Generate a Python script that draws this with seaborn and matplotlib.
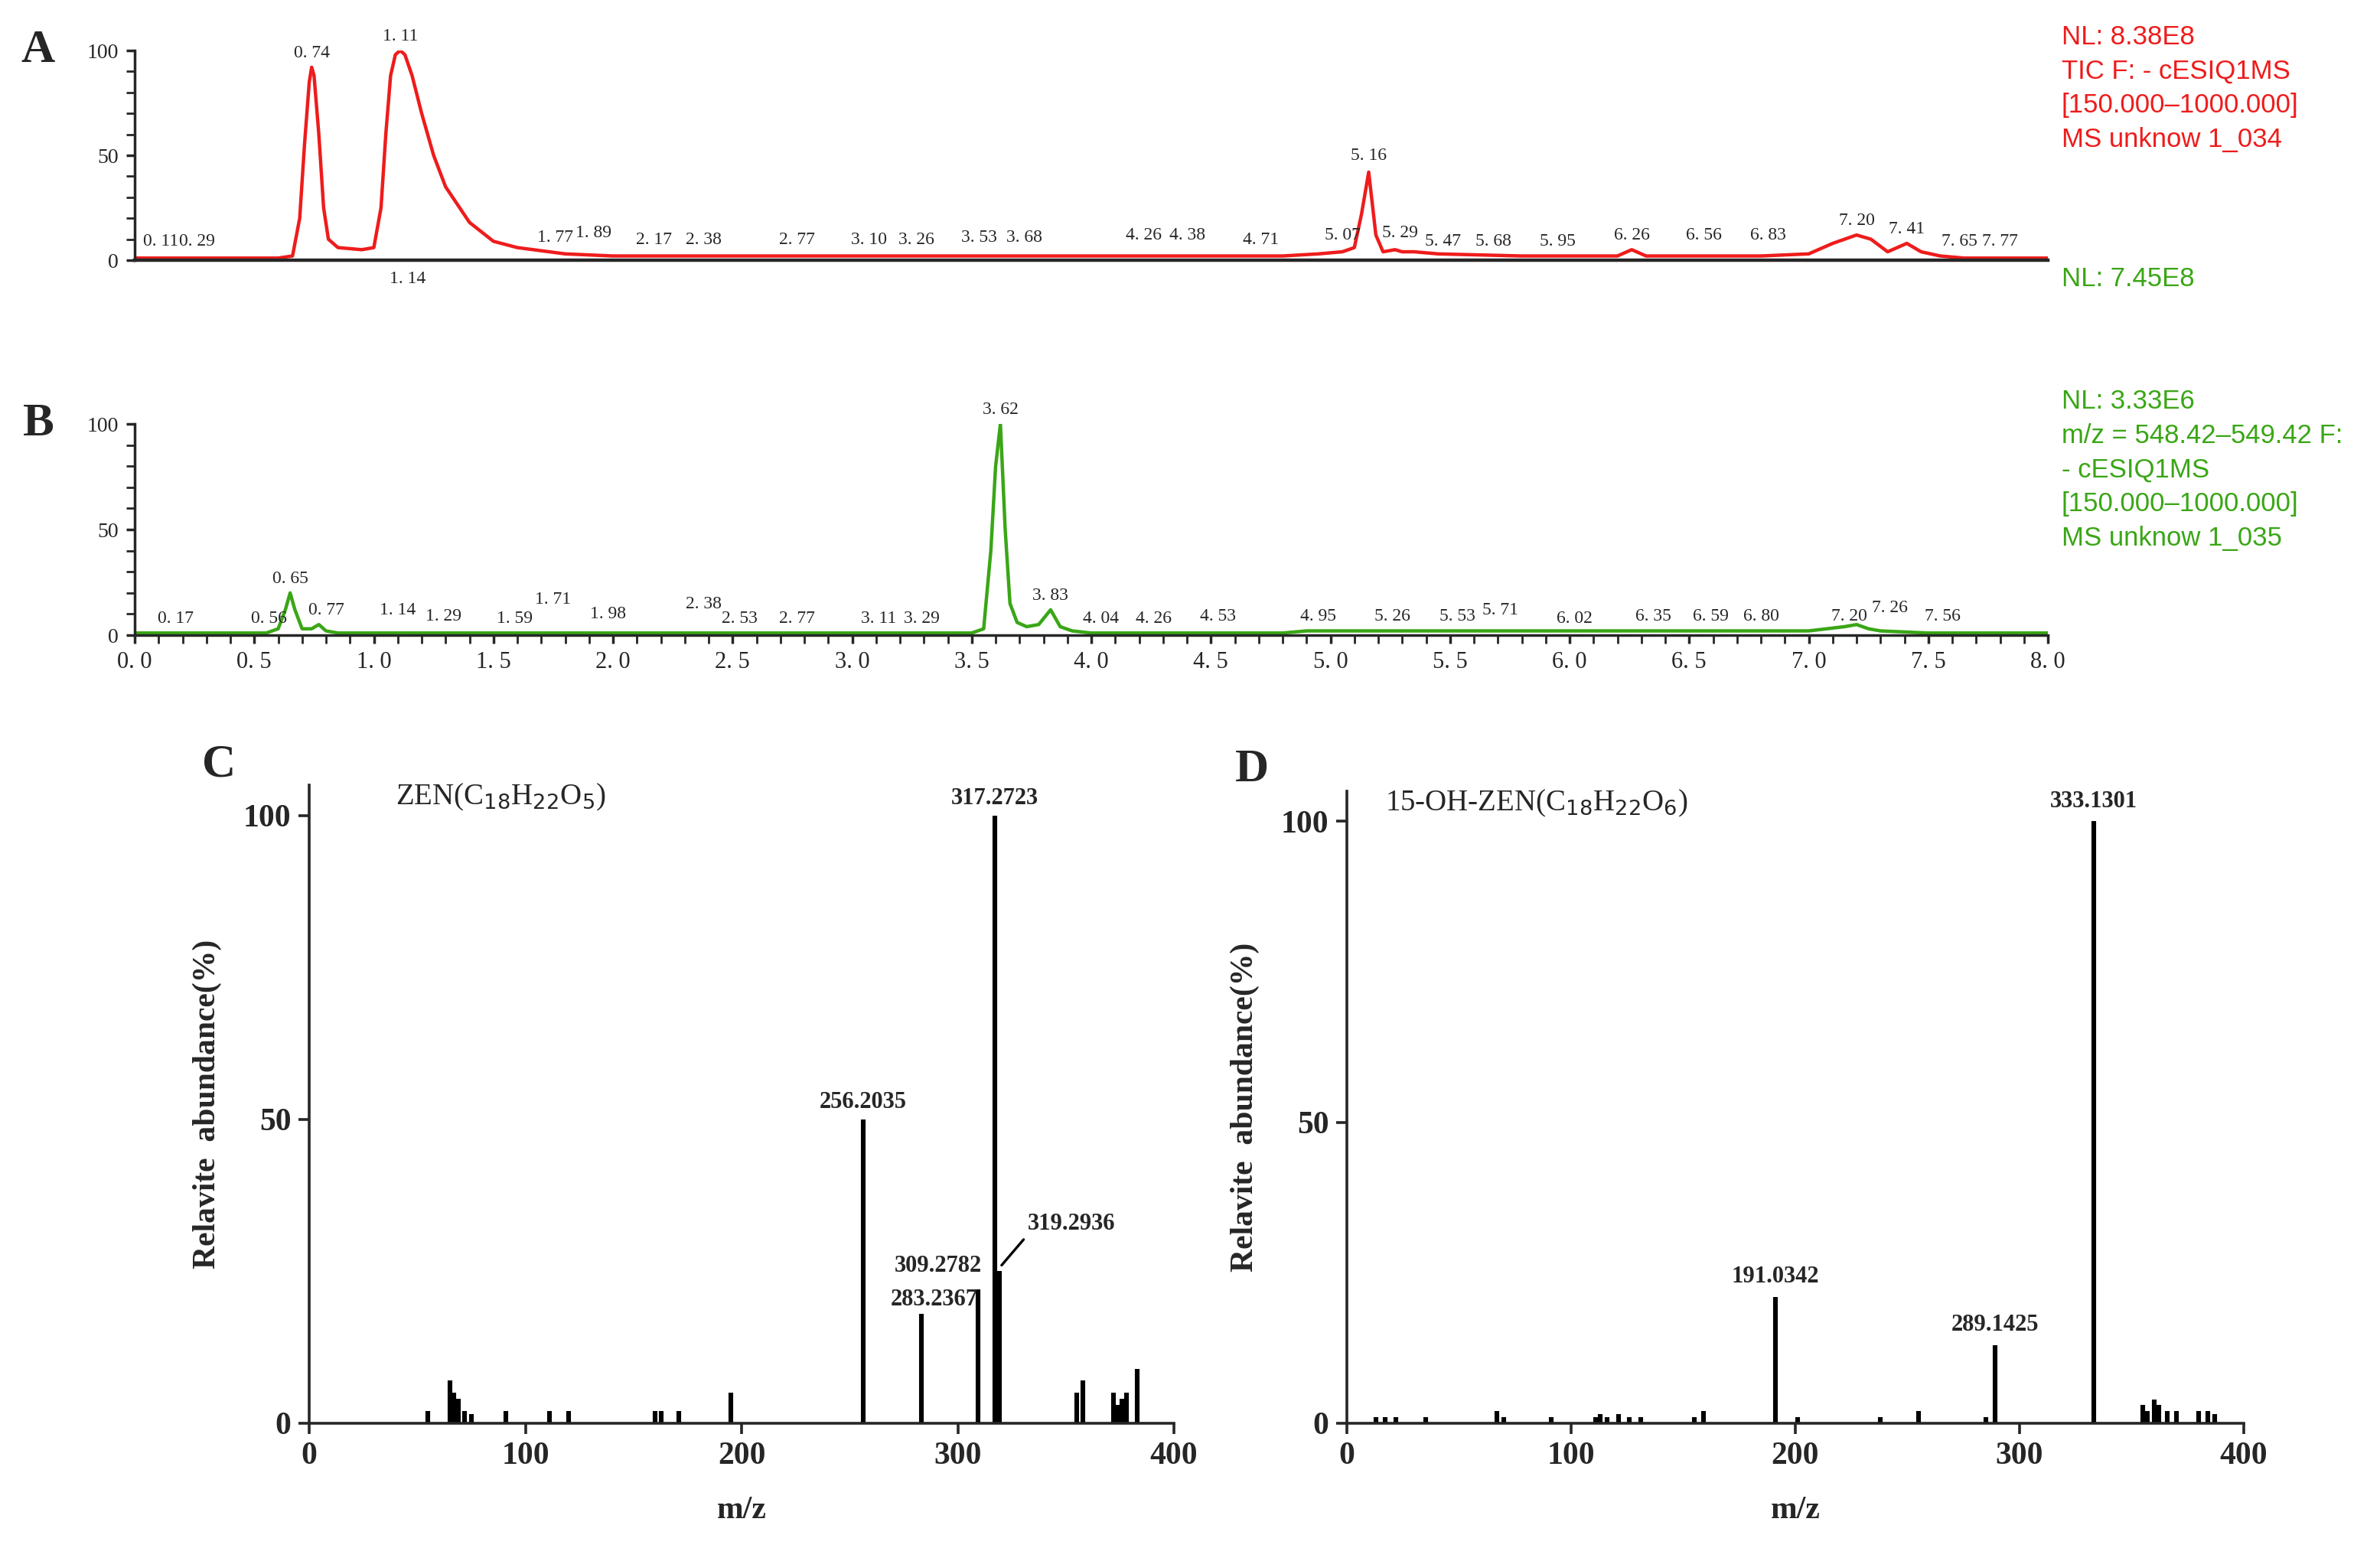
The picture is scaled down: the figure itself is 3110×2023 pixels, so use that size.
import matplotlib
matplotlib.use("Agg")
import matplotlib.pyplot as plt
import seaborn as sns
from matplotlib.ticker import MultipleLocator

sns.set_theme(style="ticks")
plt.rcParams['font.family'] = ['Liberation Serif', 'DejaVu Serif']

# ---- Data ----
a_time = [0.0,0.3,0.6,0.66,0.69,0.71,0.73,0.74,0.75,0.77,0.79,0.81,0.85,0.95,1.00,1.03,1.05,1.07,1.09,1.11,1.13,1.16,1.20,1.25,1.30,1.40,1.50,1.60,1.80,2.0,3.0,4.0,4.8,4.95,5.05,5.10,5.13,5.16,5.19,5.22,5.27,5.30,5.35,5.45,5.8,6.2,6.26,6.32,6.8,7.0,7.1,7.2,7.26,7.33,7.41,7.47,7.55,7.65,8.0]
a_int  = [1,1,1,2,20,55,85,92,88,60,25,10,6,5,6,25,60,88,98,100,98,88,70,50,35,18,9,6,3,2,2,2,2,3,4,6,22,42,12,4,5,4,4,3,2,2,5,2,2,3,8,12,10,4,8,4,2,1,1]
a_labels = [(0.11,"0. 11",2),(0.26,"0. 29",2),(0.74,"0. 74",92),(1.11,"1. 11",100),(1.76,"1. 77",4),(1.92,"1. 89",6),(2.17,"2. 17",3),(2.38,"2. 38",3),(2.77,"2. 77",3),(3.07,"3. 10",3),(3.27,"3. 26",3),(3.53,"3. 53",4),(3.72,"3. 68",4),(4.22,"4. 26",5),(4.40,"4. 38",5),(4.71,"4. 71",3),(5.05,"5. 07",5),(5.16,"5. 16",43),(5.29,"5. 29",6),(5.47,"5. 47",2),(5.68,"5. 68",2),(5.95,"5. 95",2),(6.26,"6. 26",5),(6.56,"6. 56",5),(6.83,"6. 83",5),(7.20,"7. 20",12),(7.41,"7. 41",8),(7.63,"7. 65",2),(7.80,"7. 77",2)]

b_time = [0.0,0.55,0.60,0.63,0.65,0.67,0.70,0.74,0.77,0.80,0.85,1.5,3.0,3.50,3.55,3.58,3.60,3.62,3.64,3.66,3.69,3.73,3.78,3.83,3.87,3.92,4.0,4.8,4.9,5.0,5.5,6.0,6.5,7.0,7.15,7.2,7.25,7.3,7.5,8.0]
b_int  = [1,1,3,12,20,12,3,3,5,2,1,1,1,1,3,40,80,100,50,15,6,4,5,12,4,2,1,1,2,2,2,2,2,2,4,5,3,2,1,1]
b_labels = [(0.17,"0. 17",1),(0.56,"0. 56",1),(0.65,"0. 65",20),(0.80,"0. 77",5),(1.10,"1. 14",5),(1.29,"1. 29",2),(1.59,"1. 59",1),(1.75,"1. 71",10),(1.98,"1. 98",3),(2.38,"2. 38",8),(2.53,"2. 53",1),(2.77,"2. 77",1),(3.11,"3. 11",1),(3.29,"3. 29",1),(3.62,"3. 62",100),(3.83,"3. 83",12),(4.04,"4. 04",1),(4.26,"4. 26",1),(4.53,"4. 53",2),(4.95,"4. 95",2),(5.26,"5. 26",2),(5.53,"5. 53",2),(5.71,"5. 71",5),(6.02,"6. 02",1),(6.35,"6. 35",2),(6.59,"6. 59",2),(6.80,"6. 80",2),(7.17,"7. 20",2),(7.34,"7. 26",6),(7.56,"7. 56",2)]

c_mz  = [55,65,67,69,72,75,91,111,120,160,163,171,195,256.2035,283.2367,309.2782,317.2723,319.2936,355,358,372,374,376,378,383]
c_int = [2,7,5,4,2,1.5,2,2,2,2,2,2,5,50,18,22,100,25,5,7,5,3,4,5,9]
c_lab = [(256.2035,50),(283.2367,18),(309.2782,22),(317.2723,100),(319.2936,25)]

d_mz  = [13,17,22,35,67,70,91,111,113,116,121,126,131,155,159,191.0342,201,238,255,285,289.1425,333.1301,355,357,360,362,366,370,380,384,387]
d_int = [1,1,1,1,2,1,1,1,1.5,1,1.5,1,1,1,2,21,1,1,2,1,13,100,3,2,4,3,2,2,2,2,1.5]
d_lab = [(191.0342,21),(289.1425,13),(333.1301,100)]

W, H = 1555, 1011.5
fig = plt.figure(figsize=(15.55, 10.115), dpi=200)
def ax_at(x0, x1, y0, y1):
    return fig.add_axes([x0/W, 1-y1/H, (x1-x0)/W, (y1-y0)/H])

RED, GREEN = "#ee1c1c", "#3aa616"

def chrom(ax, t, y, color, labels):
    sns.lineplot(x=t, y=y, ax=ax, color=color, lw=1.6)
    ax.set_xlim(0, 8); ax.set_ylim(0, 100)
    ax.set_yticks([0, 50, 100])
    ax.yaxis.set_minor_locator(MultipleLocator(10))
    for s in ["top", "right"]: ax.spines[s].set_visible(False)
    ax.tick_params(labelsize=10, length=4)
    ax.set_xlabel(""); ax.set_ylabel("")
    for x, s, h in labels:
        ax.text(x, h+3, s, ha="center", va="bottom", fontsize=8.5, clip_on=False)

axA = ax_at(88, 1338, 33, 170)
chrom(axA, a_time, a_int, RED, a_labels)
axA.set_xticks([]); axA.spines["bottom"].set_linewidth(1.6)
axA.text(1.14, -5, "1. 14", ha="center", va="top", fontsize=8.5)

axB = ax_at(88, 1338, 277, 415)
chrom(axB, b_time, b_int, GREEN, b_labels)
axB.set_xticks([i*0.5 for i in range(17)])
axB.set_xticklabels([f"{i*0.5:.1f}".replace(".", ". ") for i in range(17)], fontsize=11)
axB.xaxis.set_minor_locator(MultipleLocator(0.1))

sans = ['Liberation Sans', 'DejaVu Sans']
fig.text(1347/W, 1-16/H, "NL: 8.38E8\nTIC F: - cESIQ1MS\n[150.000–1000.000]\nMS unknow 1_034",
         color=RED, fontsize=12.5, va="top", family=sans, linespacing=1.45)
fig.text(1347/W, 1-182/H, "NL: 7.45E8", color=GREEN, fontsize=12.5, va="center", family=sans)
fig.text(1347/W, 1-254/H, "NL: 3.33E6\nm/z = 548.42–549.42 F:\n- cESIQ1MS\n[150.000–1000.000]\nMS unknow 1_035",
         color=GREEN, fontsize=12.5, va="top", family=sans, linespacing=1.45)
for lab, x, y in [("A", 25, 33), ("B", 25, 277), ("C", 143, 500), ("D", 818, 503)]:
    fig.text(x/W, 1-y/H, lab, fontsize=22, fontweight="bold", ha="center", va="center")

def spec(ax, mz, it, formula, fx):
    ax.vlines(mz, 0, it, color="black", lw=2.2)
    sns.despine(ax=ax)
    ax.set_xlim(0, 400); ax.set_ylim(0, 105)
    ax.set_xticks([0, 100, 200, 300, 400]); ax.set_yticks([0, 50, 100])
    ax.tick_params(labelsize=15, length=5, width=1.3)
    for l in ax.get_xticklabels()+ax.get_yticklabels(): l.set_fontweight("bold")
    for s in ["left", "bottom"]: ax.spines[s].set_linewidth(1.3)
    ax.set_xlabel("m/z", fontsize=15, fontweight="bold", labelpad=12)
    ax.set_ylabel("Relavite  abundance(%)", fontsize=15, fontweight="bold", labelpad=10)
    ax.text(fx, 103, formula, fontsize=14, va="center")

axC = ax_at(202, 767, 513, 930)
spec(axC, c_mz, c_int, r"ZEN(C$_{18}$H$_{22}$O$_{5}$)", 40)
for x, h in c_lab:
    s = f"{x:.4f}"
    if x > 319:
        axC.annotate(s, xy=(x+1, h+1), xytext=(x+13, h+6), textcoords="data",
                     fontsize=11, fontweight="bold", ha="left", va="bottom",
                     arrowprops=dict(arrowstyle="-", lw=1.2, color="black",
                                     shrinkA=0, shrinkB=0, relpos=(0, 0)))
    elif 300 < x < 312:
        axC.text(x+2, h+2, s, fontsize=11, fontweight="bold", ha="right", va="bottom")
    elif 280 < x < 290:
        axC.text(x+6, h+0.5, s, fontsize=11, fontweight="bold", ha="center", va="bottom")
    else:
        axC.text(x, h+1, s, fontsize=11, fontweight="bold", ha="center", va="bottom")

axD = ax_at(880, 1466, 517, 930)
spec(axD, d_mz, d_int, r"15-OH-ZEN(C$_{18}$H$_{22}$O$_{6}$)", 17)
for x, h in d_lab:
    axD.text(x, h+1.5, f"{x:.4f}", fontsize=11, fontweight="bold", ha="center", va="bottom")

fig.savefig("out.png", dpi=200)
